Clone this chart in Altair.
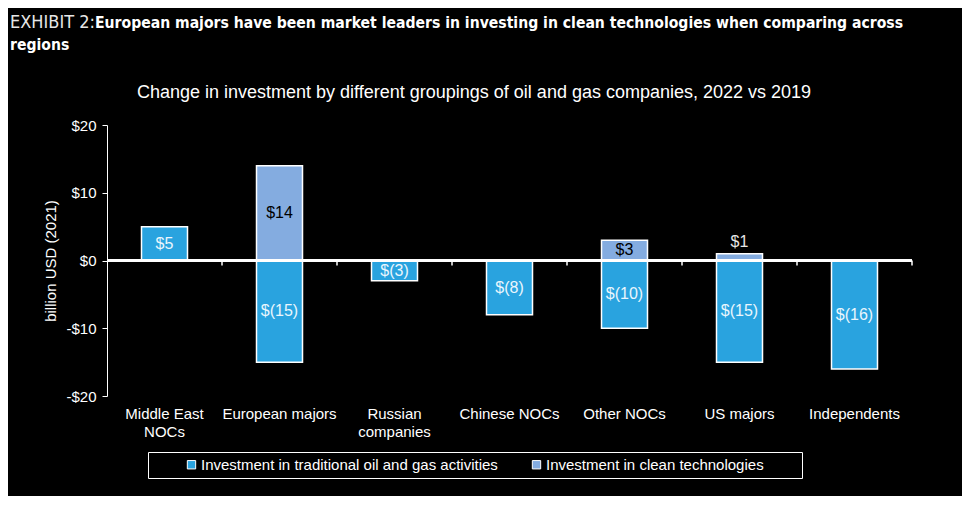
import altair as alt
import pandas as pd

categories = ["Middle East NOCs", "European majors", "Russian companies",
              "Chinese NOCs", "Other NOCs", "US majors", "Independents"]
traditional = [5, -15, -3, -8, -10, -15, -16]
clean = [None, 14, None, None, 3, 1, None]
series_names = ["Investment in traditional oil and gas activities",
                "Investment in clean technologies"]
series_colors = ["#29a3df", "#84ace0"]
y_ticks = [-20, -15, -10, -5, 0, 5, 10, 15, 20]

title_prefix = "EXHIBIT 2:"
title_bold = ["European majors have been market leaders in investing in clean technologies when comparing across",
              "regions"]
subtitle = "Change in investment by different groupings of oil and gas companies, 2022 vs 2019"
y_title = "billion USD (2021)"

TITLE_FONT = "DejaVu Sans Condensed"


def fmt(v):
    return f"${v}" if v >= 0 else f"$({-v})"


rows = []
for c, t, k in zip(categories, traditional, clean):
    rows.append(dict(cat=c, series=series_names[0], value=t, label=fmt(t),
                     tcolor="#eaf6fd", inside=abs(t) >= 2))
    if k is not None:
        rows.append(dict(cat=c, series=series_names[1], value=k, label=fmt(k),
                         tcolor="#000000" if abs(k) >= 2 else "#e6e6e6", inside=abs(k) >= 2))
df = pd.DataFrame(rows)
df["mid"] = df["value"] / 2

cat_df = pd.DataFrame({"cat": categories})

xscale = alt.Scale(domain=categories, paddingInner=0.6, paddingOuter=0.3)
yscale = alt.Scale(domain=[-20, 20], nice=False)
label_expr = ("datum.label == 'Middle East NOCs' ? ['Middle East', 'NOCs'] : "
              "datum.label == 'Russian companies' ? ['Russian', 'companies'] : datum.label")

x_enc = alt.X("cat:N", sort=categories, scale=xscale, title=None,
              axis=alt.Axis(labelExpr=label_expr, labelAngle=0, domain=False, ticks=False,
                            labelPadding=10, labelFontSize=15, labelColor="#ffffff",
                            labelFont="Liberation Sans", labelLineHeight=18,
                            labelBaseline="top"))
y_axis = alt.Axis(values=y_ticks, tickCount=8, grid=False, labelOverlap=False,
                  labelExpr="datum.value < 0 ? '-$' + abs(datum.value) : '$' + datum.value",
                  labelFontSize=15, labelColor="#ffffff", labelFont="Liberation Sans",
                  domainColor="#ffffff", tickColor="#ffffff", tickSize=5,
                  titleColor="#ffffff", titleFontSize=15, titleFont="Liberation Sans",
                  titleFontWeight="normal", titlePadding=7, labelPadding=6)


def y_of(field):
    return alt.Y(field, scale=yscale, title=y_title, axis=y_axis)


NB = "\u00a0"
legend_expr = ("datum.label == 'Investment in clean technologies' ? "
               "datum.label + '" + NB * 8 + "\u200b' : datum.label")

bars = alt.Chart(df).mark_bar(stroke="white", strokeWidth=1.5).encode(
    x=x_enc,
    y=y_of("value:Q"),
    color=alt.Color("series:N", scale=alt.Scale(domain=series_names, range=series_colors),
                    title=None,
                    legend=alt.Legend(orient="none", legendX=41, legendY=327, direction="horizontal",
                                      strokeColor="white", padding=5, symbolType="square",
                                      symbolSize=70, symbolStrokeColor="white", symbolStrokeWidth=1,
                                      labelFontSize=15, labelColor="#ffffff", labelFont="Liberation Sans",
                                      columnPadding=0, symbolOffset=31, labelOffset=2,
                                      labelLimit=500, labelExpr=legend_expr)),
    order=alt.Order("series:N"),
)

zero = alt.Chart(cat_df).mark_rule(color="white", strokeWidth=1.8).encode(
    y=alt.Y(datum=0, scale=yscale, title=y_title, axis=y_axis)
)

ticks = alt.Chart(cat_df).mark_rule(color="white", strokeWidth=1.5).encode(
    x=alt.X("cat:N", sort=categories,
            scale=alt.Scale(domain=categories, paddingInner=0, paddingOuter=0),
            bandPosition=1, axis=None),
    y=alt.Y(datum=0, scale=yscale, title=y_title, axis=y_axis),
    y2=alt.datum(-0.75)
)

inside = alt.Chart(df).transform_filter("datum.inside").mark_text(
    fontSize=16, font="Liberation Sans", baseline="middle"
).encode(
    x=alt.X("cat:N", sort=categories, scale=xscale),
    y=y_of("mid:Q"),
    text="label:N",
    color=alt.Color("tcolor:N", scale=None),
)

outside = alt.Chart(df).transform_filter("!datum.inside").mark_text(
    fontSize=16, font="Liberation Sans", baseline="bottom", dy=-4
).encode(
    x=alt.X("cat:N", sort=categories, scale=xscale),
    y=y_of("value:Q"),
    text="label:N",
    color=alt.Color("tcolor:N", scale=None),
)

tdf = pd.DataFrame({"t": [0]})
t_prefix = alt.Chart(tdf).mark_text(
    text=title_prefix, align="left", baseline="alphabetic", fontSize=18,
    font=TITLE_FONT, color="#e6e6e6"
).encode(x=alt.value(-97), y=alt.value(-97))
t_line1 = alt.Chart(tdf).mark_text(
    text=title_bold[0], align="left", baseline="alphabetic", fontSize=15.6, fontWeight="bold",
    font=TITLE_FONT, color="#ffffff"
).encode(x=alt.value(-12), y=alt.value(-97))
t_line2 = alt.Chart(tdf).mark_text(
    text=title_bold[1], align="left", baseline="alphabetic", fontSize=15.6, fontWeight="bold",
    font=TITLE_FONT, color="#ffffff"
).encode(x=alt.value(-97), y=alt.value(-75))
t_sub = alt.Chart(tdf).mark_text(
    text=subtitle, align="center", baseline="middle", fontSize=18,
    font="Liberation Sans", color="#ffffff"
).encode(x=alt.value(367), y=alt.value(-32))

main = alt.layer(bars, zero, inside, outside)
chart = alt.layer(main, ticks, t_prefix, t_line1, t_line2, t_sub).resolve_scale(
    x="independent"
).properties(
    width=805, height=271,
    autosize=alt.AutoSizeParams(type="none"),
    padding={"left": 99, "top": 117, "right": 50, "bottom": 100},
    background="black",
).configure_view(stroke=None).configure_axisY(tickCount=8, labelOverlap=False)

chart.save("out.html", embed_options={"renderer": "svg", "actions": False})
